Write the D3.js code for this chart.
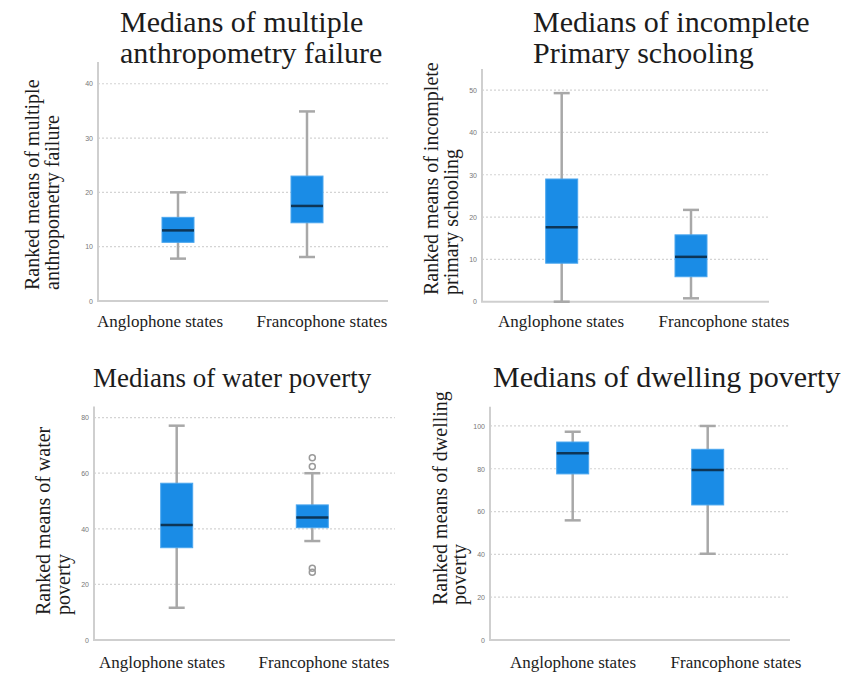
<!DOCTYPE html>
<meta charset="utf-8">
<style>
body { margin: 0; background: #fff; }
text { font-family: "Liberation Serif", "Times New Roman", serif; fill: #1c1c1c; }
.tick text { font-family: "Liberation Sans", Arial, sans-serif; font-size: 7px; fill: #777; }
.grid line { stroke: #d4d4d4; stroke-width: 1.2; stroke-dasharray: 2,2; }
.axis-line { stroke: #cfcfcf; stroke-width: 2; fill: none; }
.whisker { stroke: #a8a8a8; stroke-width: 2.5; }
.box { fill: #1a8ce6; stroke: #4aa6ee; stroke-width: 1; }
.median { stroke: #0d3556; stroke-width: 2.5; }
.outlier { fill: none; stroke: #9a9a9a; stroke-width: 1.5; }
</style>
<body>
<script src="https://d3js.org/d3.v7.min.js"></script>
<script>

var width = 858,
    height = 675;

var groups = ["Anglophone states", "Francophone states"];

// five number summaries per group: [low whisker, q1, median, q3, high whisker]
var anthropometry = [[7.8, 10.8, 13.0, 15.4, 20.0], [8.1, 14.4, 17.5, 23.0, 34.9]];
var schooling = [[0, 9.1, 17.6, 29.0, 49.3], [0.8, 5.9, 10.6, 15.8, 21.7]];
var water = [[11.6, 33.2, 41.4, 56.4, 77.1], [35.6, 40.4, 44.1, 48.6, 60.0]];
var dwelling = [[55.9, 77.6, 87.2, 92.5, 97.3], [40.3, 63.1, 79.4, 89.1, 100]];

var anthropometryOutliers = [[], []];
var schoolingOutliers = [[], []];
var waterOutliers = [[], [65.6, 62.4, 25.8, 24.4]];
var dwellingOutliers = [[], []];

var anthropometryTicks = [0, 10, 20, 30, 40];
var schoolingTicks = [0, 10, 20, 30, 40, 50];
var waterTicks = [0, 20, 40, 60, 80];
var dwellingTicks = [0, 20, 40, 60, 80, 100];

var titles = [
  ["Medians of multiple", "anthropometry failure"],
  ["Medians of incomplete", "Primary schooling"],
  ["Medians of water poverty"],
  ["Medians of dwelling poverty"]
];
var yTitles = [
  ["Ranked means of multiple", "anthropometry failure"],
  ["Ranked means of incomplete", "primary schooling"],
  ["Ranked means of water", "poverty"],
  ["Ranked means of dwelling", "poverty"]
];

var svg = d3.select("body").append("svg")
    .attr("width", width)
    .attr("height", height);

// layout of each panel (pixels)
var panels = [
  {stats: anthropometry, out: anthropometryOutliers, ticks: anthropometryTicks, top: 44,
   x0: 98, x1: 388, y0: 301, y1: 62, boxes: [178, 307], labels: [160, 322], labelY: 327,
   title: titles[0], titleX: 120, titleY: 32, titleSize: 30,
   yt: yTitles[0], ytX: [39, 59], ytY: 290},
  {stats: schooling, out: schoolingOutliers, ticks: schoolingTicks, top: 55,
   x0: 482, x1: 769, y0: 301.7, y1: 69, boxes: [561.7, 691], labels: [561, 724], labelY: 327,
   title: titles[1], titleX: 533, titleY: 32, titleSize: 30,
   yt: yTitles[1], ytX: [438, 458], ytY: 295},
  {stats: water, out: waterOutliers, ticks: waterTicks, top: 84,
   x0: 94, x1: 395, y0: 640, y1: 406.5, boxes: [176.7, 312.3], labels: [162, 324], labelY: 668,
   title: titles[2], titleX: 93, titleY: 387, titleSize: 27,
   yt: yTitles[2], ytX: [50, 70], ytY: 615},
  {stats: dwelling, out: dwellingOutliers, ticks: dwellingTicks, top: 109,
   x0: 490, x1: 790, y0: 640, y1: 406.7, boxes: [572.7, 707.7], labels: [573, 736], labelY: 668,
   title: titles[3], titleX: 493, titleY: 387, titleSize: 30,
   yt: yTitles[3], ytX: [447, 466], ytY: 605}
];

panels.forEach(drawPanel);

function drawPanel(p) {
  var g = svg.append("g");

  var y = d3.scaleLinear()
      .domain([0, p.top])
      .range([p.y0, p.y1]);

  var x = d3.scalePoint()
      .domain(groups)
      .range(p.boxes);

  var xl = d3.scalePoint()
      .domain(groups)
      .range(p.labels);

  // grid
  g.append("g")
      .attr("class", "grid")
    .selectAll("line")
    .data(p.ticks.filter(function(t) { return t > 0; }))
    .enter().append("line")
      .attr("x1", p.x0)
      .attr("x2", p.x1)
      .attr("y1", function(d) { return y(d); })
      .attr("y2", function(d) { return y(d); });

  // tick labels
  g.append("g")
      .attr("transform", "translate(" + (p.x0 - 4) + ",0)")
      .call(d3.axisLeft(y).tickValues(p.ticks).tickSize(0).tickPadding(1))
      .call(function(a) { a.select(".domain").remove(); });

  // axis lines
  g.append("path")
      .attr("class", "axis-line")
      .attr("d", "M" + p.x0 + "," + p.y1 + "V" + p.y0 + "H" + p.x1);

  var bw = 32, cap = 16;

  var box = g.selectAll(".bx")
    .data(p.stats)
    .enter().append("g")
      .attr("class", "bx")
      .attr("transform", function(d, i) { return "translate(" + x(groups[i]) + ",0)"; });

  box.append("line")
      .attr("class", "whisker")
      .attr("y1", function(d) { return y(d[0]); })
      .attr("y2", function(d) { return y(d[4]); });
  box.append("line")
      .attr("class", "whisker")
      .attr("x1", -cap / 2).attr("x2", cap / 2)
      .attr("y1", function(d) { return y(d[0]); })
      .attr("y2", function(d) { return y(d[0]); });
  box.append("line")
      .attr("class", "whisker")
      .attr("x1", -cap / 2).attr("x2", cap / 2)
      .attr("y1", function(d) { return y(d[4]); })
      .attr("y2", function(d) { return y(d[4]); });
  box.append("rect")
      .attr("class", "box")
      .attr("x", -bw / 2)
      .attr("width", bw)
      .attr("y", function(d) { return y(d[3]); })
      .attr("height", function(d) { return y(d[1]) - y(d[3]); });
  box.append("line")
      .attr("class", "median")
      .attr("x1", -bw / 2).attr("x2", bw / 2)
      .attr("y1", function(d) { return y(d[2]); })
      .attr("y2", function(d) { return y(d[2]); });

  box.each(function(d, i) {
    d3.select(this).selectAll("circle")
      .data(p.out[i])
      .enter().append("circle")
        .attr("class", "outlier")
        .attr("r", 3)
        .attr("cy", function(v) { return y(v); });
  });

  // category labels
  g.selectAll(".xlab")
    .data(groups)
    .enter().append("text")
      .attr("class", "xlab")
      .attr("x", function(d) { return xl(d); })
      .attr("y", p.labelY)
      .attr("text-anchor", "middle")
      .style("font-size", "17px")
      .text(function(d) { return d; });

  // title
  g.selectAll(".ttl")
    .data(p.title)
    .enter().append("text")
      .attr("class", "ttl")
      .attr("x", p.titleX)
      .attr("y", function(d, i) { return p.titleY + i * 31; })
      .style("font-size", p.titleSize + "px")
      .text(function(d) { return d; });

  // y axis title
  g.selectAll(".ytl")
    .data(p.yt)
    .enter().append("text")
      .attr("class", "ytl")
      .attr("transform", function(d, i) { return "translate(" + p.ytX[i] + "," + p.ytY + ")rotate(-90)"; })
      .style("font-size", "20px")
      .text(function(d) { return d; });
}

</script>
